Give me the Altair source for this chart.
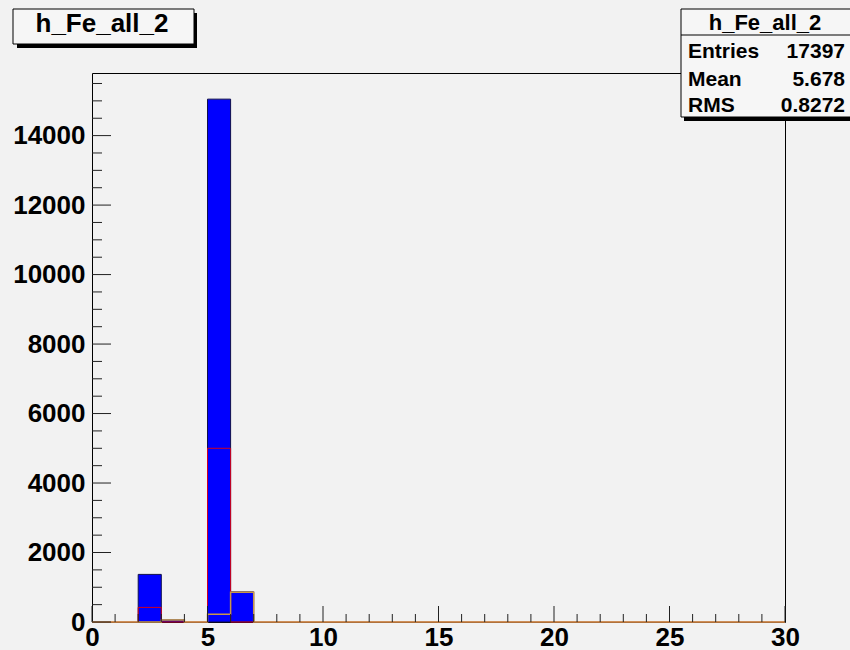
import altair as alt
import pandas as pd

# ---- histogram contents (1-unit bins on 0..30) ----
bin_low = [2, 3, 5, 6]
all_counts = [1370, 60, 15050, 867]      # filled blue histogram
red_counts = [420, 0, 5000, 0]           # red outline histogram
orange_counts = [0, 55, 222, 856]        # orange outline histogram

x_min, x_max = 0, 30
y_max = 15802

x_major = [0, 5, 10, 15, 20, 25, 30]
x_minor = [v for v in range(0, 31) if v % 5 != 0]
y_major = [0, 2000, 4000, 6000, 8000, 10000, 12000, 14000]
y_minor = [v for v in range(500, 16000, 500) if v % 2000 != 0]

title_text = "h_Fe_all_2"
stat_names = ["Entries", "Mean", "RMS"]
stat_values = ["17397", "5.678", "0.8272"]

FONT = "Liberation Sans"
BG = "#f2f2f2"
W, H = 693, 549

bars = pd.DataFrame({
    "lo": bin_low,
    "hi": [b + 1 for b in bin_low],
    "n": all_counts,
})


def step_table(counts):
    vals = [0] * (x_max - x_min + 1)
    for b, c in zip(bin_low, counts):
        vals[b - x_min] = c
    return pd.DataFrame({"x": list(range(x_min, x_max + 1)), "n": vals})


xs = alt.Scale(domain=[x_min, x_max], nice=False, zero=False)
ys = alt.Scale(domain=[0, y_max], nice=False)

one = pd.DataFrame({"k": [0]})

filled = alt.Chart(bars).mark_rect(
    color="#0000ff", stroke="#10104a", strokeWidth=1
).encode(
    x=alt.X("lo:Q", scale=xs, axis=alt.Axis(
        values=x_major, grid=False, ticks=False, domain=False,
        labelFont=FONT, labelFontSize=26, labelFontWeight="bold",
        labelColor="black", labelPadding=2, labelFlush=False,
        labelOverlap=False, title=None)),
    x2="hi:Q",
    y=alt.Y("n:Q", scale=ys, axis=alt.Axis(
        values=y_major, format="d", grid=False, ticks=False, domain=False,
        labelFont=FONT, labelFontSize=26, labelFontWeight="bold",
        labelColor="black", labelPadding=7, labelFlush=False,
        labelOverlap=False, title=None)),
    y2=alt.datum(0),
)

red_line = alt.Chart(step_table(red_counts)).mark_line(
    interpolate="step-after", color="#d00020", strokeWidth=1
).encode(x=alt.X("x:Q", scale=xs), y=alt.Y("n:Q", scale=ys))

orange_line = alt.Chart(step_table(orange_counts)).mark_line(
    interpolate="step-after", color="#c8964a", strokeWidth=1.5
).encode(x=alt.X("x:Q", scale=xs), y=alt.Y("n:Q", scale=ys))

# ---- inward ticks on the bottom and left edges of the frame ----
tick_color = "#222222"
xmaj = alt.Chart(pd.DataFrame({"v": x_major})).mark_rule(color=tick_color).encode(
    x=alt.X("v:Q", scale=xs), y=alt.value(H), y2=alt.value(H - 16))
xmin = alt.Chart(pd.DataFrame({"v": x_minor})).mark_rule(color=tick_color).encode(
    x=alt.X("v:Q", scale=xs), y=alt.value(H), y2=alt.value(H - 8))
ymaj = alt.Chart(pd.DataFrame({"v": y_major})).mark_rule(color=tick_color).encode(
    y=alt.Y("v:Q", scale=ys), x=alt.value(0), x2=alt.value(19))
ymin = alt.Chart(pd.DataFrame({"v": y_minor})).mark_rule(color=tick_color).encode(
    y=alt.Y("v:Q", scale=ys), x=alt.value(0), x2=alt.value(10))

# ---- title box ----
tb_shadow = alt.Chart(one).mark_rect(color="black").encode(
    x=alt.value(-75), x2=alt.value(105), y=alt.value(-60), y2=alt.value(-25))
tb_box = alt.Chart(one).mark_rect(fill="#f6f6f6", stroke="black", strokeWidth=1).encode(
    x=alt.value(-79), x2=alt.value(102), y=alt.value(-64), y2=alt.value(-29))
tb_text = alt.Chart(one).mark_text(
    font=FONT, fontSize=26, fontWeight="bold", color="black",
    align="center", baseline="alphabetic"
).encode(x=alt.value(10), y=alt.value(-41), text=alt.value(title_text))

# ---- statistics box ----
sb_shadow = alt.Chart(one).mark_rect(color="black").encode(
    x=alt.value(592), x2=alt.value(775), y=alt.value(-60), y2=alt.value(48))
sb_box = alt.Chart(one).mark_rect(fill="#f6f6f6", stroke="black", strokeWidth=1).encode(
    x=alt.value(589), x2=alt.value(775), y=alt.value(-64), y2=alt.value(44))
sb_sep = alt.Chart(one).mark_rule(color="black", strokeWidth=1).encode(
    x=alt.value(589), x2=alt.value(775), y=alt.value(-38))
sb_title = alt.Chart(one).mark_text(
    font=FONT, fontSize=22, fontWeight="bold", color="black",
    align="center", baseline="alphabetic"
).encode(x=alt.value(673), y=alt.value(-43), text=alt.value(title_text))

row_baselines = [-15, 13, 39]
stat_layers = []
for name, value, yb in zip(stat_names, stat_values, row_baselines):
    row = pd.DataFrame({"name": [name], "value": [value]})
    stat_layers.append(alt.Chart(row).mark_text(
        font=FONT, fontSize=21, fontWeight="bold", color="black",
        align="left", baseline="alphabetic"
    ).encode(x=alt.value(596), y=alt.value(yb), text="name:N"))
    stat_layers.append(alt.Chart(row).mark_text(
        font=FONT, fontSize=21, fontWeight="bold", color="black",
        align="right", baseline="alphabetic"
    ).encode(x=alt.value(753), y=alt.value(yb), text="value:N"))

chart = alt.layer(
    filled, red_line, orange_line, xmaj, xmin, ymaj, ymin,
    tb_shadow, tb_box, tb_text,
    sb_shadow, sb_box, sb_sep, sb_title, *stat_layers,
).properties(
    width=W, height=H,
    autosize=alt.AutoSizeParams(type="none"),
    padding={"left": 92, "top": 73, "right": 65, "bottom": 28},
    background=BG,
).configure_view(
    stroke="black", strokeWidth=1, fill=BG
)

chart.save("out.html", embed_options={"renderer": "svg", "actions": False})
